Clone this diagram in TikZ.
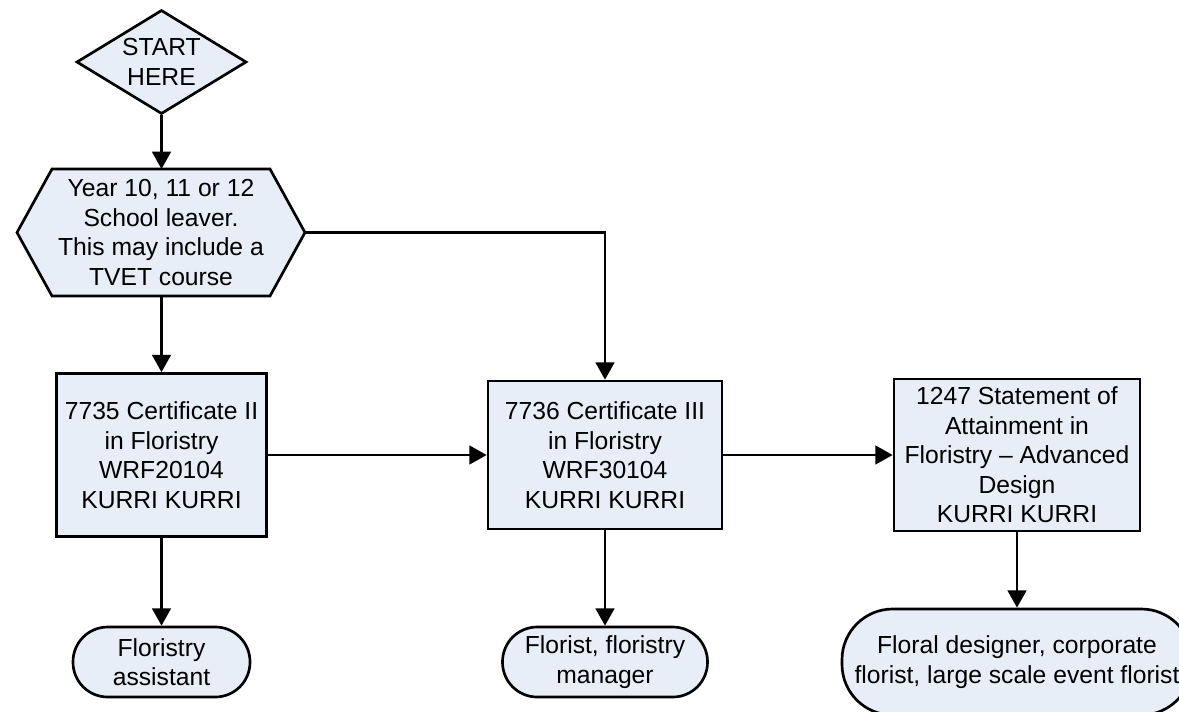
\documentclass[tikz,border=0pt]{standalone}
\usepackage{fontspec}
\setmainfont{Liberation Sans}
\usetikzlibrary{arrows.meta,shapes.geometric}
\definecolor{boxfill}{RGB}{232,238,247}
\begin{document}
\begin{tikzpicture}[x=0.75pt,y=-0.75pt,
  shapeline/.style={draw=black, line width=2pt, fill=boxfill},
  txt/.style={align=center, font=\fontsize{18.5}{22.1}\selectfont, inner sep=0pt},
  boxnode/.style={shapeline, txt, rectangle},
  term/.style={shapeline, txt, rectangle},
  conn/.style={line width=2pt, -{Triangle[length=13pt,width=14pt]}}
]
\fill[white] (0,0) rectangle (1179,711);
\useasboundingbox (0,0) rectangle (1179,711);
\clip (0,0) rectangle (1179,711);

% start diamond
\node[shapeline, diamond, minimum width=127.5pt, minimum height=78pt, inner sep=0pt] (start) at (161.5,62) {};
\node[txt] (starttxt) at (start) {START\\HERE};

% hexagon
\coordinate (hexW) at (17,232.5);
\coordinate (hexE) at (305,232.5);
\coordinate (hexN) at (161.5,169);
\coordinate (hexS) at (161.5,296);
\draw[shapeline] (hexW) -- (52,169) -- (270,169) -- (hexE) -- (270,296) -- (52,296) -- cycle;
\node[txt] (school) at (161,232.5) {Year 10, 11 or 12\\School leaver.\\This may include a\\TVET course};

% boxes
\node[boxnode, minimum width=157.5pt, minimum height=122.25pt] (b1) at (161.5,455)
  {7735 Certificate II\\in Floristry\\WRF20104\\KURRI KURRI};
\node[boxnode, minimum width=175.5pt, minimum height=111pt] (b2) at (605,455)
  {7736 Certificate III\\in Floristry\\WRF30104\\KURRI KURRI};
\node[boxnode, minimum width=184.5pt, minimum height=114pt] (b3) at (1017,455)
  {1247 Statement of\\Attainment in\\Floristry -- Advanced\\Design\\KURRI KURRI};

% terminals
\node[term, rounded corners=26pt, minimum width=132.75pt, minimum height=52.5pt] (t1) at (161.5,662)
  {Floristry\\assistant};
\node[term, rounded corners=26pt, minimum width=153.75pt, minimum height=52.5pt] (t2) at (605,662)
  {Florist, floristry\\manager};
\node[term, rounded corners=38pt, minimum width=262.5pt, minimum height=79.5pt] (t3) at (1017,662)
  {Floral designer, corporate\\florist, large scale event florist};

% connectors
\draw[conn] (start.south) -- (hexN);
\draw[conn] (hexS) -- (b1.north);
\draw[conn] (hexE) -| (b2.north);
\draw[conn] (b1.east) -- (b2.west);
\draw[conn] (b2.east) -- (b3.west);
\draw[conn] (b1.south) -- (t1.north);
\draw[conn] (b2.south) -- (t2.north);
\draw[conn] (b3.south) -- (t3.north);
\end{tikzpicture}
\end{document}
